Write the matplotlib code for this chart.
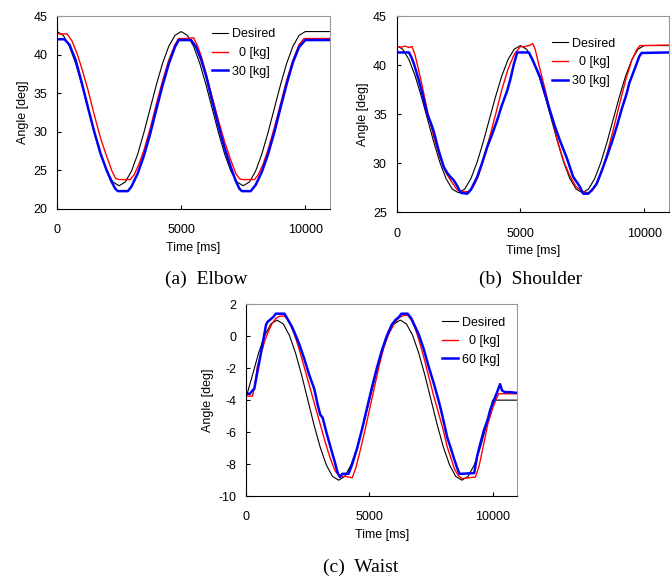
#python3
import numpy as np
import matplotlib
matplotlib.use('Agg')
import matplotlib.pyplot as plt

plt.rcParams['font.family'] = ['Liberation Sans', 'DejaVu Sans']
plt.rcParams['axes.unicode_minus'] = False

#desired trajectories, sampled every 250 ms up to 10 s, then held
t_des = list(range(0, 10001, 250)) + [11000]

elbow_des = [43.0, 42.51, 41.09, 38.88, 36.09, 33.0, 29.91, 27.12, 24.91, 23.49, 23.0,
             23.49, 24.91, 27.12, 29.91, 33.0, 36.09, 38.88, 41.09, 42.51, 43.0,
             42.51, 41.09, 38.88, 36.09, 33.0, 29.91, 27.12, 24.91, 23.49, 23.0,
             23.49, 24.91, 27.12, 29.91, 33.0, 36.09, 38.88, 41.09, 42.51, 43.0, 43.0]

shoulder_des = [42.0, 41.63, 40.57, 38.91, 36.82, 34.5, 32.18, 30.09, 28.43, 27.37, 27.0,
                27.37, 28.43, 30.09, 32.18, 34.5, 36.82, 38.91, 40.57, 41.63, 42.0,
                41.63, 40.57, 38.91, 36.82, 34.5, 32.18, 30.09, 28.43, 27.37, 27.0,
                27.37, 28.43, 30.09, 32.18, 34.5, 36.82, 38.91, 40.57, 41.63, 42.0, 42.0]

waist_des = [-3.8, -2.45, -1.06, 0.05, 0.76, 1.0, 0.76, 0.05, -1.06, -2.45, -4.0,
             -5.55, -6.94, -8.05, -8.76, -9.0, -8.76, -8.05, -6.94, -5.55, -4.0,
             -2.45, -1.06, 0.05, 0.76, 1.0, 0.76, 0.05, -1.06, -2.45, -4.0,
             -5.55, -6.94, -8.05, -8.76, -9.0, -8.76, -8.05, -6.94, -5.55, -4.0, -4.0]

#measured: elbow
elbow_t0 = [0, 400, 600, 800, 1000, 1250, 1500, 1750, 2000, 2200, 2350, 2500, 2950, 3100,
            3300, 3500, 3750, 4000, 4250, 4500, 4750, 4900, 5200, 5500, 5650, 5800, 6000,
            6250, 6500, 6750, 7000, 7200, 7350, 7500, 7950, 8100, 8300, 8500, 8750, 9000,
            9250, 9500, 9750, 9950, 10500, 11000]
elbow_v0 = [42.7, 42.7, 41.8, 40.2, 38.2, 35.4, 32.2, 29.2, 26.8, 25.0, 24.0, 23.8, 23.8, 24.4,
            25.8, 27.6, 30.4, 33.6, 36.6, 39.3, 41.3, 42.1, 42.1, 42.2, 41.2, 39.9, 37.6,
            34.5, 31.5, 28.7, 26.3, 24.6, 23.9, 23.8, 23.8, 24.4, 25.8, 27.7, 30.5, 33.6,
            36.7, 39.3, 41.3, 42.1, 42.1, 42.1]
elbow_t30 = [0, 300, 500, 750, 1000, 1250, 1500, 1750, 2000, 2200, 2350, 2450, 2850, 3000,
             3250, 3500, 3750, 4000, 4250, 4500, 4750, 4900, 5400, 5600, 5800, 6000, 6250,
             6500, 6750, 7000, 7200, 7350, 7450, 7800, 8000, 8250, 8500, 8750, 9000, 9250,
             9500, 9750, 10000, 11000]
elbow_v30 = [42.0, 42.0, 41.3, 39.3, 36.3, 33.1, 30.0, 27.2, 25.0, 23.5, 22.6, 22.3, 22.3, 22.9,
             24.6, 26.9, 29.7, 32.9, 36.0, 38.8, 41.0, 41.9, 41.9, 41.0, 39.4, 37.3, 34.0,
             30.8, 27.9, 25.4, 23.6, 22.6, 22.3, 22.3, 23.1, 24.8, 27.1, 29.9, 33.1, 36.2,
             39.0, 41.0, 41.9, 41.9]

#measured: shoulder
shoulder_t0 = [0, 200, 350, 500, 630, 750, 900, 1000, 1250, 1500, 1750, 2000, 2250, 2450,
               2600, 2900, 3100, 3300, 3500, 3750, 4000, 4250, 4500, 4750, 5000, 5200, 5350,
               5500, 5600, 5750, 6000, 6250, 6500, 6750, 7000, 7250, 7500, 7750, 7900, 8100,
               8300, 8500, 8750, 9000, 9250, 9500, 9700, 9830, 11000]
shoulder_v0 = [41.9, 41.85, 41.95, 41.8, 41.9, 41.0, 39.4, 38.3, 35.3, 32.7, 30.6, 29.0, 28.0, 27.3,
               27.1, 27.1, 27.6, 28.7, 30.3, 32.6, 35.0, 37.5, 39.6, 41.1, 41.9, 41.9, 42.0,
               42.2, 41.6, 40.0, 37.5, 34.8, 32.3, 30.2, 28.7, 27.6, 27.1, 27.0, 27.2, 28.0,
               29.3, 31.0, 33.4, 36.0, 38.5, 40.5, 41.6, 42.0, 42.05]
shoulder_t30 = [0, 500, 600, 700, 900, 1050, 1237, 1400, 1507, 1700, 1910, 2050, 2180, 2300,
                2450, 2585, 2850, 3000, 3255, 3450, 3660, 3850, 4063, 4250, 4467, 4600, 4740,
                4873, 5343, 5500, 5600, 5790, 6000, 6190, 6400, 6600, 6866, 7000, 7133, 7300,
                7403, 7537, 7740, 7900, 8077, 8280, 8480, 8700, 8886, 9100, 9290, 9400, 9492,
                9693, 9800, 9895, 11000]
shoulder_v30 = [41.3, 41.3, 40.8, 40.15, 38.45, 37.0, 35.05, 34.0, 33.2, 31.3, 29.6, 29.0, 28.6, 28.3,
                27.7, 27.0, 26.9, 27.3, 28.6, 30.0, 31.65, 32.9, 34.4, 35.9, 37.4, 38.6, 40.15,
                41.3, 41.3, 40.5, 39.9, 38.8, 37.0, 35.4, 33.7, 32.3, 30.6, 29.6, 28.6, 28.0,
                27.6, 26.9, 26.9, 27.3, 27.9, 29.2, 30.6, 32.2, 33.7, 35.6, 37.1, 38.2, 38.8,
                40.15, 40.9, 41.25, 41.3]

#measured: waist
waist_t0 = [0, 250, 350, 450, 600, 750, 900, 1050, 1200, 1350, 1550, 1700, 1850, 2000, 2200,
            2400, 2600, 2800, 3000, 3200, 3400, 3600, 3700, 3800, 4000, 4300, 4450, 4600, 4800,
            5000, 5200, 5400, 5600, 5800, 6000, 6200, 6400, 6550, 6700, 6850, 7000, 7200, 7400,
            7600, 7800, 8000, 8150, 8300, 8450, 8600, 8750, 9300, 9450, 9600, 9800, 10000,
            10150, 10250, 11000]
waist_v0 = [-3.75, -3.75, -3.1, -1.9, -1.1, -0.3, 0.3, 0.8, 1.1, 1.25, 1.25, 1.0, 0.5, -0.1, -1.1,
            -2.2, -3.3, -4.4, -5.5, -6.6, -7.6, -8.4, -8.6, -8.8, -8.75, -8.85, -8.2, -7.3, -6.0,
            -4.6, -3.2, -1.8, -0.6, 0.2, 0.8, 1.15, 1.3, 1.3, 1.0, 0.5, -0.2, -1.3, -2.5,
            -3.7, -4.8, -5.9, -6.9, -7.6, -8.3, -8.7, -8.9, -8.8, -8.1, -7.0, -5.5, -4.5,
            -3.9, -3.6, -3.6]
waist_t60 = [0, 150, 250, 325, 420, 530, 650, 800, 870, 950, 1100, 1200, 1550, 1700, 1850, 1950,
             2150, 2350, 2550, 2760, 2900, 3000, 3100, 3250, 3450, 3600, 3700, 3800, 3900, 4150,
             4300, 4500, 4700, 4900, 5100, 5300, 5500, 5700, 5900, 6050, 6200, 6300, 6550, 6700,
             6850, 7000, 7200, 7400, 7600, 7800, 7900, 8050, 8150, 8300, 8420, 8550, 8650, 8750,
             9250, 9370, 9500, 9640, 9800, 9900, 10050, 10180, 10300, 10380, 10500, 10700, 11000]
waist_v60 = [-3.6, -3.6, -3.4, -3.3, -2.5, -1.6, -0.6, 0.7, 0.9, 1.0, 1.2, 1.4, 1.4, 1.0, 0.6, 0.25,
             -0.5, -1.4, -2.4, -3.3, -4.3, -4.9, -5.1, -6.0, -7.1, -7.9, -8.5, -8.8, -8.6, -8.6,
             -8.0, -7.0, -5.8, -4.5, -3.2, -2.0, -0.9, 0.0, 0.7, 1.0, 1.2, 1.4, 1.4, 1.1,
             0.6, 0.1, -0.8, -1.9, -2.9, -4.0, -4.6, -5.6, -6.3, -7.0, -7.6, -8.2, -8.6, -8.6,
             -8.55, -7.5, -6.7, -5.9, -5.2, -4.6, -4.0, -3.5, -3.0, -3.4, -3.5, -3.5, -3.55]

panels = [
    dict(rect=[0.085, 0.638, 0.407, 0.334], ylim=(20, 45), yticks=[20, 25, 30, 35, 40, 45],
         des=elbow_des, t0=elbow_t0, v0=elbow_v0, t1=elbow_t30, v1=elbow_v30,
         load='30 [kg]', leg=(0.568, 0.936), cap='(a)  Elbow', capxy=(0.308, 0.500)),
    dict(rect=[0.591, 0.632, 0.406, 0.340], ylim=(25, 45), yticks=[25, 30, 35, 40, 45],
         des=shoulder_des, t0=shoulder_t0, v0=shoulder_v0, t1=shoulder_t30, v1=shoulder_v30,
         load='30 [kg]', leg=(0.569, 0.890), cap='(b)  Shoulder', capxy=(0.790, 0.500)),
    dict(rect=[0.367, 0.140, 0.404, 0.333], ylim=(-10, 2), yticks=[-10, -8, -6, -4, -2, 0, 2],
         des=waist_des, t0=waist_t0, v0=waist_v0, t1=waist_t60, v1=waist_v60,
         load='60 [kg]', leg=(0.722, 0.935), cap='(c)  Waist', capxy=(0.537, 0.002)),
]

fig = plt.figure(figsize=(6.71, 5.77), dpi=100)

for p in panels:
    ax = fig.add_axes(p['rect'])
    ax.plot(t_des, p['des'], color='black', lw=0.8, label='Desired')
    ax.plot(p['t0'], p['v0'], color='#ff0000', lw=1.0, label='  0 [kg]')
    ax.plot(p['t1'], p['v1'], color='#0000ff', lw=1.8, label=p['load'])
    ax.set_xlim(0, 11000)
    ax.set_ylim(*p['ylim'])
    ax.set_xticks([0, 5000, 10000])
    ax.set_yticks(p['yticks'])
    ax.tick_params(direction='in', length=3, width=0.8, labelsize=9)
    ax.tick_params(axis='x', pad=11)
    ax.tick_params(axis='y', pad=7)
    for s in ['top', 'right']:
        ax.spines[s].set_color('#999999')
    for s in ['left', 'bottom']:
        ax.spines[s].set_color('black')
    ax.set_xlabel('Time [ms]', fontsize=9, labelpad=4)
    ax.set_ylabel('Angle [deg]', fontsize=9, labelpad=3)
    ax.legend(loc='upper left', bbox_to_anchor=p['leg'], frameon=False, fontsize=9,
              borderpad=0, borderaxespad=0, handlelength=1.3, handletextpad=0.3,
              labelspacing=0.53)
    fig.text(p['capxy'][0], p['capxy'][1], p['cap'], ha='center', va='bottom',
             family=['Liberation Serif', 'DejaVu Serif'], fontsize=14)

fig.savefig('out.png', dpi=100)
